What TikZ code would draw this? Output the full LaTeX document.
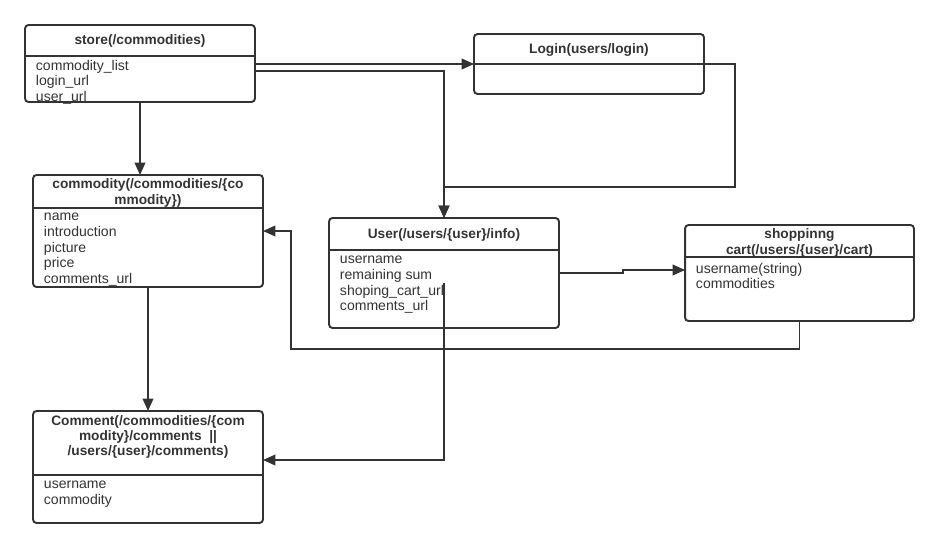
\documentclass[tikz,border=0pt]{standalone}
\usepackage{fontspec}
\setmainfont{Liberation Sans}
\usetikzlibrary{arrows.meta}
\definecolor{ink}{HTML}{333333}

\begin{document}
\begin{tikzpicture}[x=0.02cm, y=-0.02cm, line width=1.1pt, draw=ink, text=ink,
		every node/.style={font=\fontsize{8}{9}\selectfont},
		box/.style={draw, rounded corners=2pt, inner sep=0pt, outer sep=0pt, minimum width=4.6cm},
		ttl/.style={font=\fontsize{7.8}{8.6}\selectfont\bfseries, align=center, inner sep=0pt},
		fld/.style={anchor=north west, align=left, inner sep=0pt},
		->/.style={-{Triangle[length=7pt, width=6pt]}}]
	\useasboundingbox (0,0) rectangle (939,548);

	% boxes
	\node[box, minimum height=1.54cm] (store) at (140,63.5) {};
	\node[box, minimum height=1.2cm] (login) at (589,64) {};
	\node[box, minimum height=2.24cm] (commodity) at (148,231) {};
	\node[box, minimum width=4.6cm, minimum height=2.2cm] (user) at (444,273) {};
	\node[box, minimum width=4.58cm, minimum height=1.92cm] (cart) at (799.5,273) {};
	\node[box, minimum height=2.24cm] (comment) at (148,467) {};

	% titles
	\node[ttl] (storet) at (140,41) {store(/commodities)};
	\node[ttl] (logint) at (589,50) {Login(users/login)};
	\node[ttl] (commodityt) at (148,193) {commodity(/commodities/\{co\\mmodity\})};
	\node[ttl] (usert) at (444,235) {User(/users/\{user\}/info)};
	\node[ttl] (cartt) at (799.5,243) {shoppinng\\cart(/users/\{user\}/cart)};
	\node[ttl] (commentt) at (148,437) {Comment(/commodities/\{com\\modity\}/comments~~||\\/users/\{user\}/comments)};

	% separators
	\draw (store.west |- 0,56) -- (store.east |- 0,56);
	\draw (login.west) -- (login.east);
	\draw (commodity.west |- 0,208) -- (commodity.east |- 0,208);
	\draw (user.west |- 0,250) -- (user.east |- 0,250);
	\draw (cart.west |- 0,257) -- (cart.east |- 0,257);
	\draw (comment.west |- 0,475) -- (comment.east |- 0,475);

	% fields
	\node[fld] (storef) at (35,59) {commodity\_list\\login\_url\\user\_url};
	\node[fld] (commodityf) at (43,212) {name\\introduction\\picture\\price\\comments\_url};
	\node[fld] (userf) at (339,255) {username\\remaining sum\\shoping\_cart\_url\\comments\_url};
	\node[fld] (cartf) at (695,262) {username(string)\\commodities};
	\node[fld] (commentf) at (43,480) {username\\commodity};

	% connectors
	\coordinate (j1) at (735,187);
	\coordinate (u1) at (444,283);
	\coordinate (c1) at (291,349);

	\draw[->] (store.east |- login) -- (login.west);
	\draw[->] ([yshift=-0.15cm]store.east) -| (user.north);
	\draw[->] (login.east) -| (j1) -| (user.north);
	\draw[->] (store.south) -- (store.south |- commodity.north);
	\draw[->] (commodity.south) -- (comment.north);
	\draw[->] (u1) |- ([yshift=0.14cm]comment.east);
	\draw[->] (user.east) -- ++(64,0) |- ([yshift=0.06cm]cart.west);
	\draw[->] (cart.south) |- (c1) |- (commodity.east);
\end{tikzpicture}
\end{document}
